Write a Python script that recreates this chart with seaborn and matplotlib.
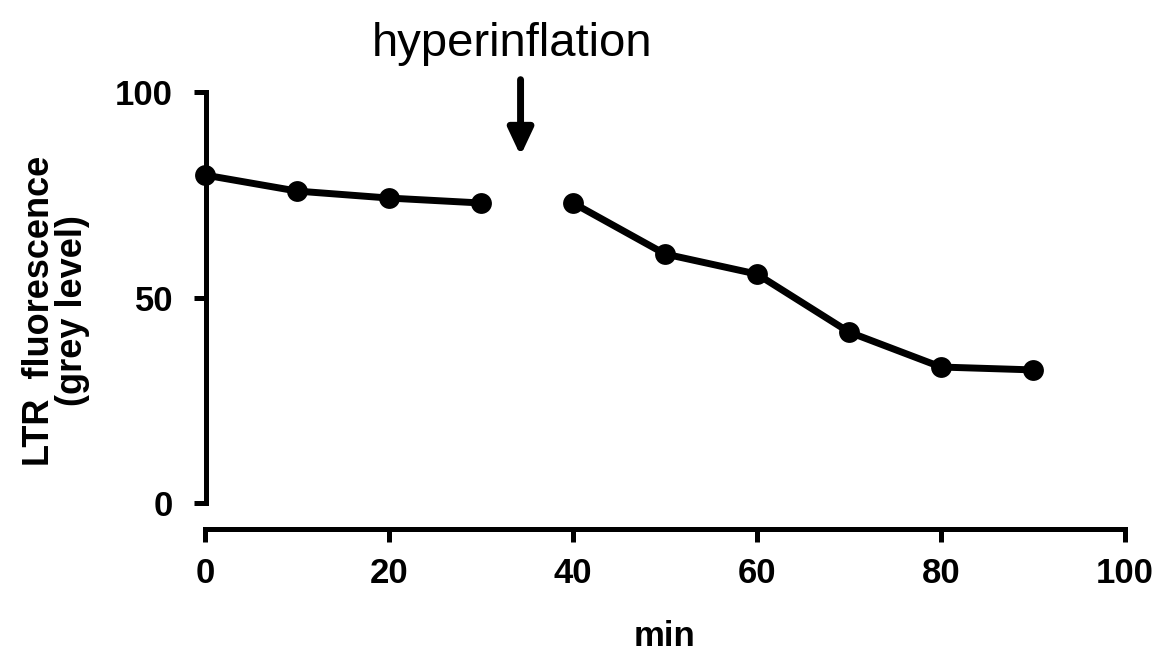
import matplotlib
matplotlib.use("Agg")
import matplotlib.pyplot as plt
import seaborn as sns
import pandas as pd

# Data
minutes = [0, 10, 20, 30, 40, 50, 60, 70, 80, 90]
fluorescence = [79.8, 75.9, 74.2, 73.0, 73.0, 60.6, 55.7, 41.6, 33.1, 32.4]
segment = ["before", "before", "before", "before",
           "after", "after", "after", "after", "after", "after"]
x_ticks = [0, 20, 40, 60, 80, 100]
y_ticks = [0, 50, 100]
event_label = "hyperinflation"
event_time = 34.3

sns.set_style("ticks", rc={"axes.edgecolor": "black", "text.color": "black",
                           "axes.labelcolor": "black", "xtick.color": "black",
                           "ytick.color": "black"})
plt.rcParams['font.family'] = ['Liberation Sans', 'DejaVu Sans']

df = pd.DataFrame({"min": minutes, "val": fluorescence, "seg": segment})

fig = plt.figure(figsize=(11.66, 6.56), dpi=100)
ax = fig.add_axes([205 / 1166, 1 - 529 / 656, (1125 - 205) / 1166, (529 - 92) / 656])

sns.lineplot(data=df, x="min", y="val", hue="seg", palette=["black", "black"],
             marker="o", markersize=15, linewidth=5, markeredgewidth=0,
             legend=False, ax=ax, clip_on=False)

ax.set_xlim(0, 100)
ax.set_ylim(-6.3, 100)
ax.set_xticks(x_ticks)
ax.set_yticks(y_ticks)

for s in ["top", "right"]:
    ax.spines[s].set_visible(False)
ax.spines["left"].set_bounds(0, 100)
ax.spines["left"].set_linewidth(3.6)
ax.spines["bottom"].set_linewidth(3.6)
ax.spines["left"].set_position(("data", 0.15))

ax.tick_params(axis="both", which="major", direction="out", length=9, width=3.6,
               labelsize=25, color="black", labelcolor="black",
               bottom=True, left=True)
ax.tick_params(axis="y", pad=15)
ax.tick_params(axis="x", pad=11)
for lbl in ax.get_xticklabels() + ax.get_yticklabels():
    lbl.set_fontweight("bold")

ax.set_xlabel("min", fontsize=25, fontweight="bold", labelpad=22)
ax.set_ylabel("LTR  fluorescence\n(grey level)", fontsize=26, fontweight="bold",
              labelpad=18, linespacing=0.95)

ax.annotate("", xy=(event_time, 84.5), xytext=(event_time, 103),
            xycoords="data", textcoords="data", annotation_clip=False,
            arrowprops=dict(arrowstyle="-|>,head_width=0.75,head_length=1.6",
                            color="black", lw=5, shrinkA=0, shrinkB=0))
fig.text(512 / 1166, 1 - 44 / 656, event_label, fontsize=34, ha="center", va="center")

fig.savefig("out.png", dpi=100, facecolor="white")
